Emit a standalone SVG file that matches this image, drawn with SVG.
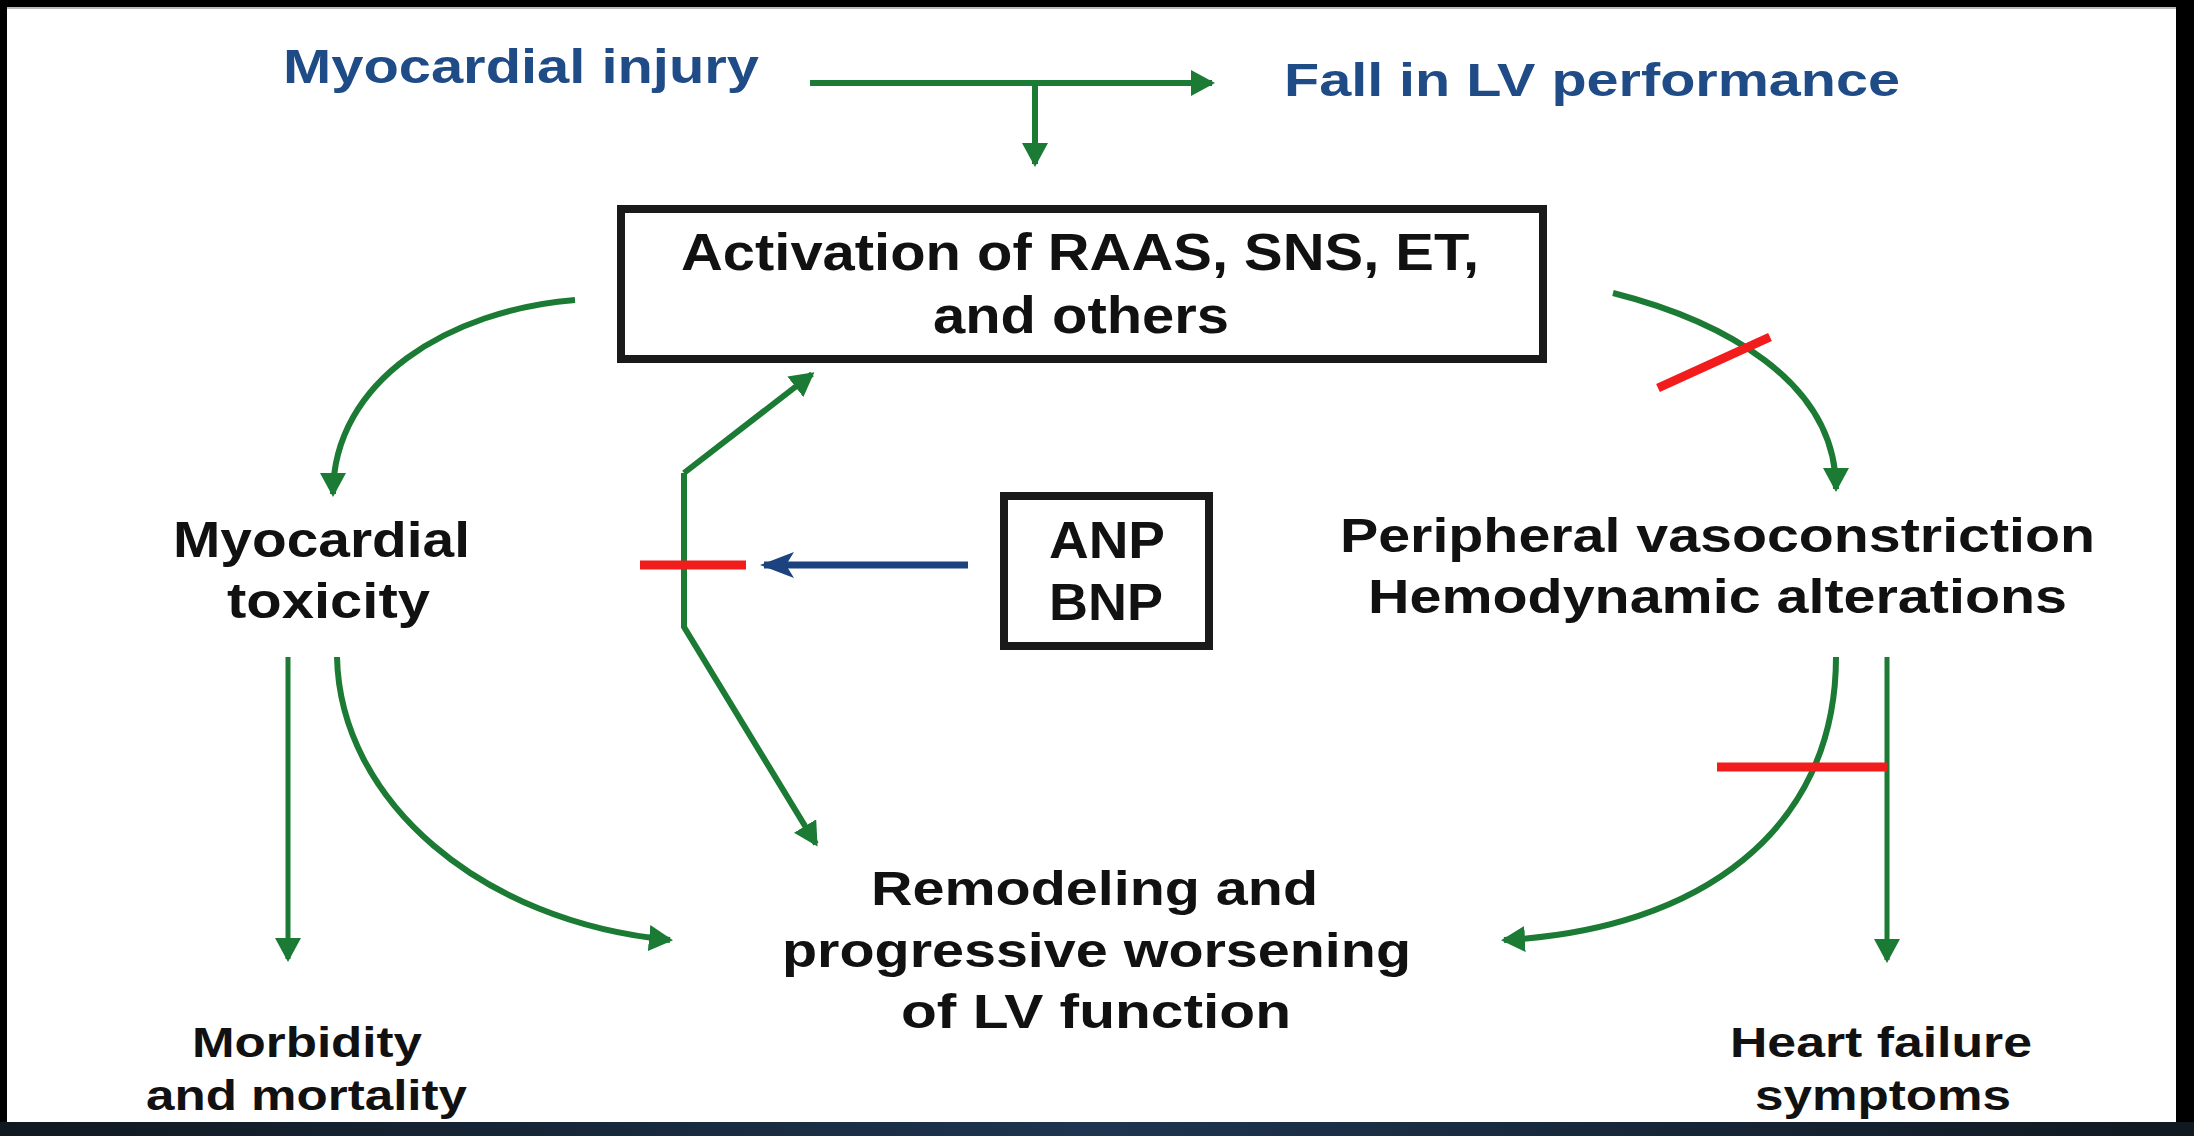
<svg xmlns="http://www.w3.org/2000/svg" width="2194" height="1136" viewBox="0 0 2194 1136">
<defs>
<marker id="ag" viewBox="0 0 24 26" refX="21" refY="13" markerWidth="24" markerHeight="26" markerUnits="userSpaceOnUse" orient="auto"><path d="M0,0 L24,13 L0,26 z" fill="#1b7a33"/></marker>
<marker id="ab" viewBox="0 0 34 26" refX="30" refY="13" markerWidth="34" markerHeight="26" markerUnits="userSpaceOnUse" orient="auto"><path d="M0,0 L34,13 L0,26 L8,13 z" fill="#1c437f"/></marker>
<linearGradient id="bot" x1="0" y1="0" x2="1" y2="0"><stop offset="0" stop-color="#101820"/><stop offset="0.5" stop-color="#1d3550"/><stop offset="1" stop-color="#101820"/></linearGradient>
</defs>
<style>
.t{font-family:"Liberation Sans",Arial,sans-serif;font-weight:bold;fill:#111}
.b{fill:#1f4b87}
.g{fill:none;stroke:#1b7a33;stroke-width:6}
.gt{fill:none;stroke:#1b7a33;stroke-width:5}
.r{stroke:#f21c1c;stroke-width:9;fill:none}
.box{fill:#fff;stroke:#1a1a1a;stroke-width:8}
</style>
<rect x="0" y="0" width="2194" height="1136" fill="#000"/>
<rect x="7" y="9" width="2169" height="1113" fill="#fff"/>
<rect x="7" y="7" width="2169" height="2" fill="#bbb"/>
<rect x="0" y="1122" width="2194" height="14" fill="url(#bot)"/>

<g id="connectors">
<path class="g" d="M810,83 H1212" marker-end="url(#ag)"/>
<path class="g" d="M1035,83 V164" marker-end="url(#ag)"/>
<path class="g" d="M575,300 C450,310 333,380 333,494" marker-end="url(#ag)"/>
<path class="g" d="M1613,293 C1720,320 1836,380 1836,489" marker-end="url(#ag)"/>
<path class="g" d="M684,473 L812,374" marker-end="url(#ag)"/>
<path class="g" d="M684,473 V627 L816,844" marker-end="url(#ag)"/>
<path class="gt" d="M288,657 V959" marker-end="url(#ag)"/>
<path class="g" d="M337,657 C340,800 480,922 670,940" marker-end="url(#ag)"/>
<path class="g" d="M1836,657 C1836,830 1700,930 1504,940" marker-end="url(#ag)"/>
<path class="gt" d="M1887,657 V960" marker-end="url(#ag)"/>
<path d="M968,565 H764" fill="none" stroke="#1c437f" stroke-width="7" marker-end="url(#ab)"/>
<path class="r" d="M640,565 H746"/>
<path class="r" d="M1717,767 H1887"/>
<path class="r" d="M1658,388 L1770,337"/>
</g>

<g id="n-injury"><text class="t b" x="283" y="83" font-size="48" textLength="476" lengthAdjust="spacingAndGlyphs">Myocardial injury</text></g>
<g id="n-fall"><text class="t b" x="1284" y="96" font-size="47" textLength="616" lengthAdjust="spacingAndGlyphs">Fall in LV performance</text></g>
<g id="n-activation">
<rect class="box" x="621" y="209" width="922" height="150"/>
<text class="t" x="681" y="270" font-size="52" textLength="798" lengthAdjust="spacingAndGlyphs">Activation of RAAS, SNS, ET,</text>
<text class="t" x="933" y="333" font-size="52" textLength="296" lengthAdjust="spacingAndGlyphs">and others</text>
</g>
<g id="n-toxicity">
<text class="t" x="173" y="557" font-size="50" textLength="297" lengthAdjust="spacingAndGlyphs">Myocardial</text>
<text class="t" x="227" y="618" font-size="50" textLength="203" lengthAdjust="spacingAndGlyphs">toxicity</text>
</g>
<g id="n-anp">
<rect class="box" x="1004" y="496" width="205" height="150"/>
<text class="t" x="1049" y="558" font-size="52" textLength="116" lengthAdjust="spacingAndGlyphs">ANP</text>
<text class="t" x="1049" y="620" font-size="52" textLength="114" lengthAdjust="spacingAndGlyphs">BNP</text>
</g>
<g id="n-peripheral">
<text class="t" x="1340" y="552" font-size="49" textLength="755" lengthAdjust="spacingAndGlyphs">Peripheral vasoconstriction</text>
<text class="t" x="1368" y="613" font-size="49" textLength="699" lengthAdjust="spacingAndGlyphs">Hemodynamic alterations</text>
</g>
<g id="n-remodeling">
<text class="t" x="871" y="905" font-size="49" textLength="447" lengthAdjust="spacingAndGlyphs">Remodeling and</text>
<text class="t" x="782" y="967" font-size="49" textLength="629" lengthAdjust="spacingAndGlyphs">progressive worsening</text>
<text class="t" x="901" y="1028" font-size="49" textLength="390" lengthAdjust="spacingAndGlyphs">of LV function</text>
</g>
<g id="n-morbidity">
<text class="t" x="192" y="1057" font-size="42" textLength="230" lengthAdjust="spacingAndGlyphs">Morbidity</text>
<text class="t" x="146" y="1110" font-size="42" textLength="321" lengthAdjust="spacingAndGlyphs">and mortality</text>
</g>
<g id="n-heart">
<text class="t" x="1730" y="1057" font-size="42" textLength="302" lengthAdjust="spacingAndGlyphs">Heart failure</text>
<text class="t" x="1755" y="1110" font-size="42" textLength="256" lengthAdjust="spacingAndGlyphs">symptoms</text>
</g>
</svg>
